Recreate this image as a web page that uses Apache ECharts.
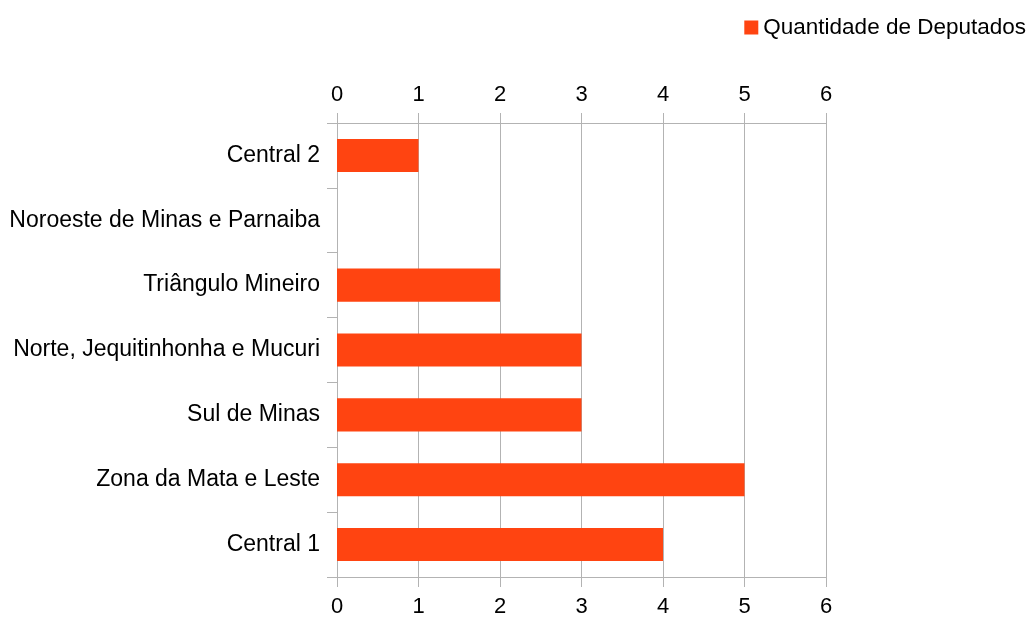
<!DOCTYPE html>
<html>
<head>
<meta charset="utf-8">
<script src="https://cdn.jsdelivr.net/npm/echarts@6/dist/echarts.min.js"></script>
<style>
  html, body { margin: 0; padding: 0; background: #fff; }
  #chart { width: 1036px; height: 619px; }
</style>
</head>
<body>
<div id="chart"></div>
<script>
// regiões e número de deputados
var regioes = ['Central 2', 'Noroeste de Minas e Parnaiba', 'Triângulo Mineiro',
  'Norte, Jequitinhonha e Mucuri', 'Sul de Minas', 'Zona da Mata e Leste', 'Central 1'];
var deputados = [1, 0, 2, 3, 3, 5, 4];
var serieNome = 'Quantidade de Deputados';

var chartDom = document.getElementById('chart');
var myChart = echarts.init(chartDom);
var option;

var fonte = 'Liberation Sans, Arial, sans-serif';
var cinza = '#b3b3b3';

function eixoValor(pos) {
  return {
    type: 'value',
    position: pos,
    min: 0,
    max: 6,
    interval: 1,
    axisLine: { show: true, lineStyle: { color: cinza } },
    axisTick: { show: true, length: 10, lineStyle: { color: cinza } },
    splitLine: { show: pos === 'bottom', lineStyle: { color: cinza } },
    axisLabel: { color: '#000', fontSize: 22, fontFamily: fonte, margin: pos === 'top' ? 17 : 19 }
  };
}

option = {
  animation: false,
  legend: {
    data: [serieNome],
    right: 5,
    top: 11,
    itemWidth: 14,
    itemHeight: 14,
    itemGap: 7,
    icon: 'rect',
    textStyle: { fontSize: 22.5, fontFamily: fonte, color: '#000' }
  },
  grid: {
    left: 337,
    right: 210,
    top: 123,
    bottom: 42
  },
  xAxis: [eixoValor('bottom'), eixoValor('top')],
  yAxis: {
    type: 'category',
    inverse: true,
    data: regioes,
    axisLine: { show: false },
    axisTick: { show: true, length: 10, lineStyle: { color: cinza } },
    axisLabel: { color: '#000', fontSize: 23, fontFamily: fonte, margin: 17 }
  },
  series: [
    {
      name: serieNome,
      type: 'bar',
      data: deputados,
      barWidth: '51%',
      itemStyle: { color: '#ff4411' }
    }
  ]
};

option && myChart.setOption(option);
</script>
</body>
</html>
